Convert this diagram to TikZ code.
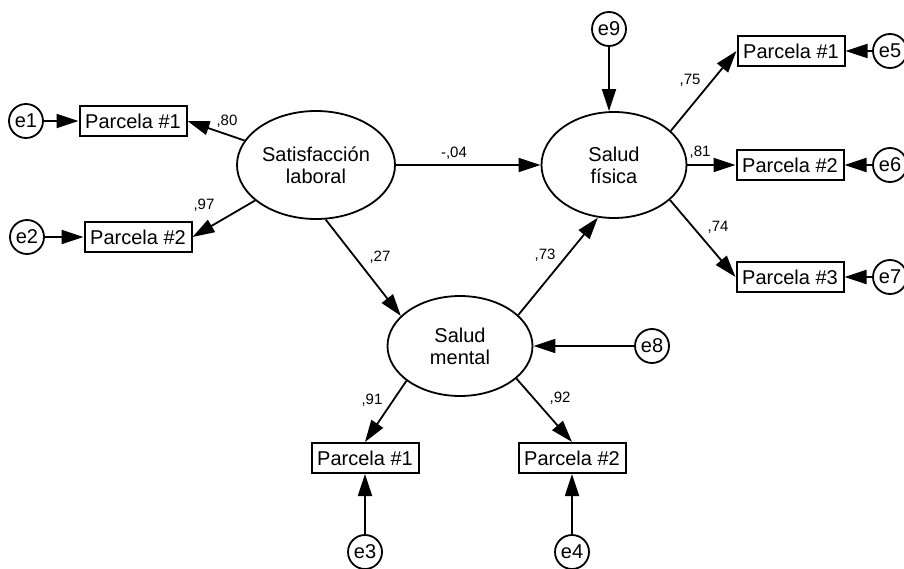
\documentclass[tikz,border=0pt]{standalone}
\usepackage{fontspec}
\setmainfont{Liberation Sans}
\usetikzlibrary{arrows.meta,shapes.geometric}
\begin{document}
\begin{tikzpicture}[x=1pt,y=-1pt,
  lat/.style={draw,ellipse,line width=1.8pt,inner sep=0pt,align=center,font=\fontsize{20}{22}\selectfont},
  obs/.style={draw,rectangle,line width=2pt,inner sep=0pt,minimum width=107pt,minimum height=30pt,font=\fontsize{20}{22}\selectfont},
  err/.style={draw,circle,line width=1.8pt,inner sep=0pt,minimum size=34pt,font=\fontsize{20}{22}\selectfont},
  lbl/.style={inner sep=0pt,font=\fontsize{15}{17}\selectfont},
  arr/.style={line width=1.8pt,-{Triangle[length=22pt,width=14pt]}}
]
\useasboundingbox (0,0) rectangle (904,569);
% latent variables
\node[lat,minimum width=158pt,minimum height=108pt] (sat) at (316,165) {Satisfacción\\laboral};
\node[lat,minimum width=145pt,minimum height=106pt] (sf) at (614,165) {Salud\\física};
\node[lat,minimum width=145pt,minimum height=100pt] (sm) at (460,346) {Salud\\mental};
% observed
\node[obs] (p1l) at (133,121) {Parcela \#1};
\node[obs] (p2l) at (138,237) {Parcela \#2};
\node[obs] (p1r) at (791,51) {Parcela \#1};
\node[obs] (p2r) at (790,165) {Parcela \#2};
\node[obs] (p3r) at (790,277) {Parcela \#3};
\node[obs] (p1b) at (365,458) {Parcela \#1};
\node[obs] (p2b) at (572,458) {Parcela \#2};
% errors
\node[err] (e1) at (26,121) {e1};
\node[err] (e2) at (27,237) {e2};
\node[err] (e3) at (365,552) {e3};
\node[err] (e4) at (572,552) {e4};
\node[err] (e5) at (890,51) {e5};
\node[err] (e6) at (890,165) {e6};
\node[err] (e7) at (890,277) {e7};
\node[err] (e8) at (652,346) {e8};
\node[err] (e9) at (609,29) {e9};
% paths
\draw[arr] (e1) -- (p1l);
\draw[arr] (e2) -- (p2l);
\draw[arr] (e3) -- (p1b);
\draw[arr] (e4) -- (p2b);
\draw[arr] (e5) -- (p1r);
\draw[arr] (e6) -- (p2r);
\draw[arr] (e7) -- (p3r);
\draw[arr] (e8) -- (sm);
\draw[arr] (e9) -- (sf.north -| e9);
\draw[arr] (sat) -- (p1l.east);
\draw[arr] (sat) -- (p2l.east);
\draw[arr] (sat.east) -- (sf.west);
\draw[arr] (sat.-80) -- (sm.153);
\draw[arr] (sm.28) -- (sf.253);
\draw[arr] (sm.-147) -- (p1b.north);
\draw[arr] (sm.-30) -- (p2b.north);
\draw[arr] (sf.31) -- (p1r.west);
\draw[arr] (sf.east) -- (p2r.west);
\draw[arr] (sf.-32) -- (p3r.west);
% labels
\node[lbl] (l80) at (227,121) {,80};
\node[lbl] (l97) at (204,205) {,97};
\node[lbl] (l04) at (454,153) {-,04};
\node[lbl] (l27) at (380,257) {,27};
\node[lbl] (l73) at (545,255) {,73};
\node[lbl] (l91) at (372,400) {,91};
\node[lbl] (l92) at (560,398) {,92};
\node[lbl] (l75) at (690,80) {,75};
\node[lbl] (l81) at (700,152) {,81};
\node[lbl] (l74) at (718,227) {,74};
\end{tikzpicture}
\end{document}
